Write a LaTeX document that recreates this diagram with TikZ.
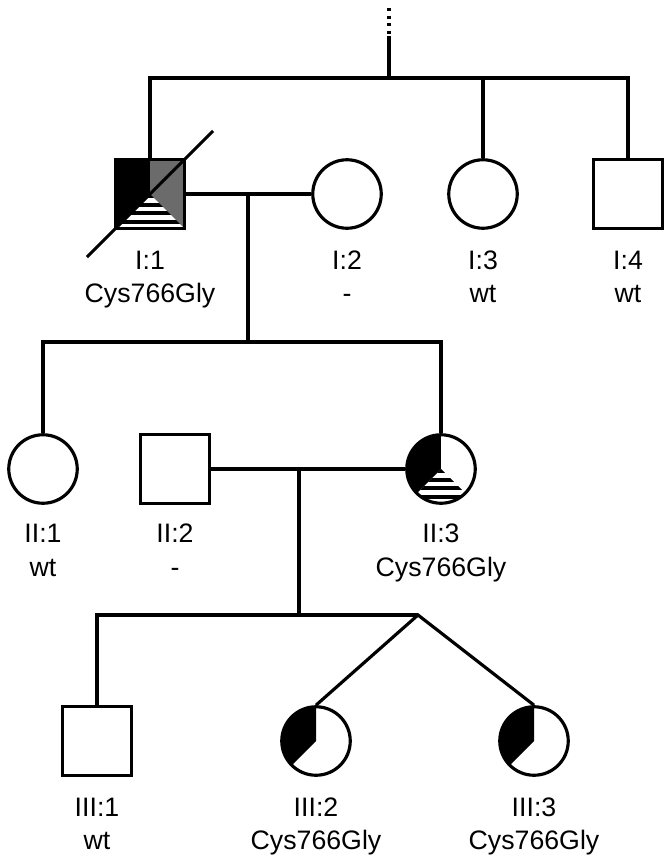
\documentclass[tikz,border=0pt]{standalone}
\usepackage{fontspec}
\setmainfont{Liberation Sans}
\begin{document}
\begin{tikzpicture}[x=0.02cm, y=-0.02cm, line width=1.8pt,
  every node/.style={inner sep=0pt},
  male/.style={draw, rectangle, minimum size=1.37cm, fill=white},
  female/.style={draw, circle, minimum size=1.37cm, fill=white},
  tag/.style={anchor=base, font=\fontsize{15.2pt}{17pt}\selectfont},
  carrier/.style={path picture={
    \fill[black] (path picture bounding box.center) -- ++(90:1.5cm) arc[start angle=90, end angle=225, radius=1.5cm] -- cycle;}},
  striped/.style={path picture={
    \fill[black] (path picture bounding box.center) -- ++(90:1.5cm) arc[start angle=90, end angle=225, radius=1.5cm] -- cycle;
    \fill[#1] (path picture bounding box.center) -- ++(-45:1.5cm) arc[start angle=-45, end angle=90, radius=1.5cm] -- cycle;
    \clip (path picture bounding box.center) -- ++(225:1.5cm) -- ++(0:2.13cm) -- cycle;
    \foreach \d in {0,0.174,0.348,0.522}
      \fill[black] ([yshift=-\d cm]path picture bounding box.center) ++(-1cm,0) rectangle ++(2cm,-0.08cm);}}
]
\useasboundingbox (0,0) rectangle (671,865);

% generation I
\node[male, striped=black!58] (I1) at (150,194) {};
\node[female] (I2) at (347,194) {};
\node[female] (I3) at (483,194) {};
\node[male] (I4) at (628,194) {};

% generation II
\node[female] (II1) at (43,469) {};
\node[male] (II2) at (175,469) {};
\node[female, striped=white] (II3) at (441,469) {};

% generation III
\node[male] (III1) at (97,741) {};
\node[female, carrier] (III2) at (316,741) {};
\node[female, carrier] (III3) at (534,741) {};

\coordinate (top) at (389,8);
\coordinate (topjoin) at (389,36);
\coordinate (sibI) at (389,78);
\coordinate (mI) at (248,194);
\coordinate (sibII) at (248,342);
\coordinate (mII) at (299,469);
\coordinate (sibIII) at (299,615);
\coordinate (twin) at (418,615);

\draw[dash pattern=on 1.7pt off 2.6pt] (top) -- (topjoin);
\draw (topjoin) -- (sibI);
\draw (I1.north) -- (I1.north |- sibI) -- (I4.north |- sibI) -- (I4.north);
\draw (I3.north) -- (I3.north |- sibI);

\draw (I1) -- (I2);
\draw (mI) -- (sibII);
\draw (II1.north) -- (II1.north |- sibII) -- (II3.north |- sibII) -- (II3.north);

\draw (II2) -- (II3);
\draw (mII) -- (sibIII);
\draw (III1.north) -- (III1.north |- sibIII) -- (twin);
\draw (III2.north) -- (twin) -- (III3.north);

% deceased
\coordinate (dA) at (87,257);
\coordinate (dB) at (213,131);
\draw (dA) -- (dB);

% labels
\node[tag] (I1id) at (150,269) {I:1};
\node[tag] (I1gt) at (150,302) {Cys766Gly};
\node[tag] (I2id) at (347,269) {I:2};
\node[tag] (I2gt) at (347,302) {-};
\node[tag] (I3id) at (483,269) {I:3};
\node[tag] (I3gt) at (483,302) {wt};
\node[tag] (I4id) at (628,269) {I:4};
\node[tag] (I4gt) at (628,302) {wt};

\node[tag] (II1id) at (43,542) {II:1};
\node[tag] (II1gt) at (43,576) {wt};
\node[tag] (II2id) at (175,542) {II:2};
\node[tag] (II2gt) at (175,576) {-};
\node[tag] (II3id) at (441,542) {II:3};
\node[tag] (II3gt) at (441,576) {Cys766Gly};

\node[tag] (III1id) at (97,816) {III:1};
\node[tag] (III1gt) at (97,849) {wt};
\node[tag] (III2id) at (316,816) {III:2};
\node[tag] (III2gt) at (316,849) {Cys766Gly};
\node[tag] (III3id) at (534,816) {III:3};
\node[tag] (III3gt) at (534,849) {Cys766Gly};
\end{tikzpicture}
\end{document}
